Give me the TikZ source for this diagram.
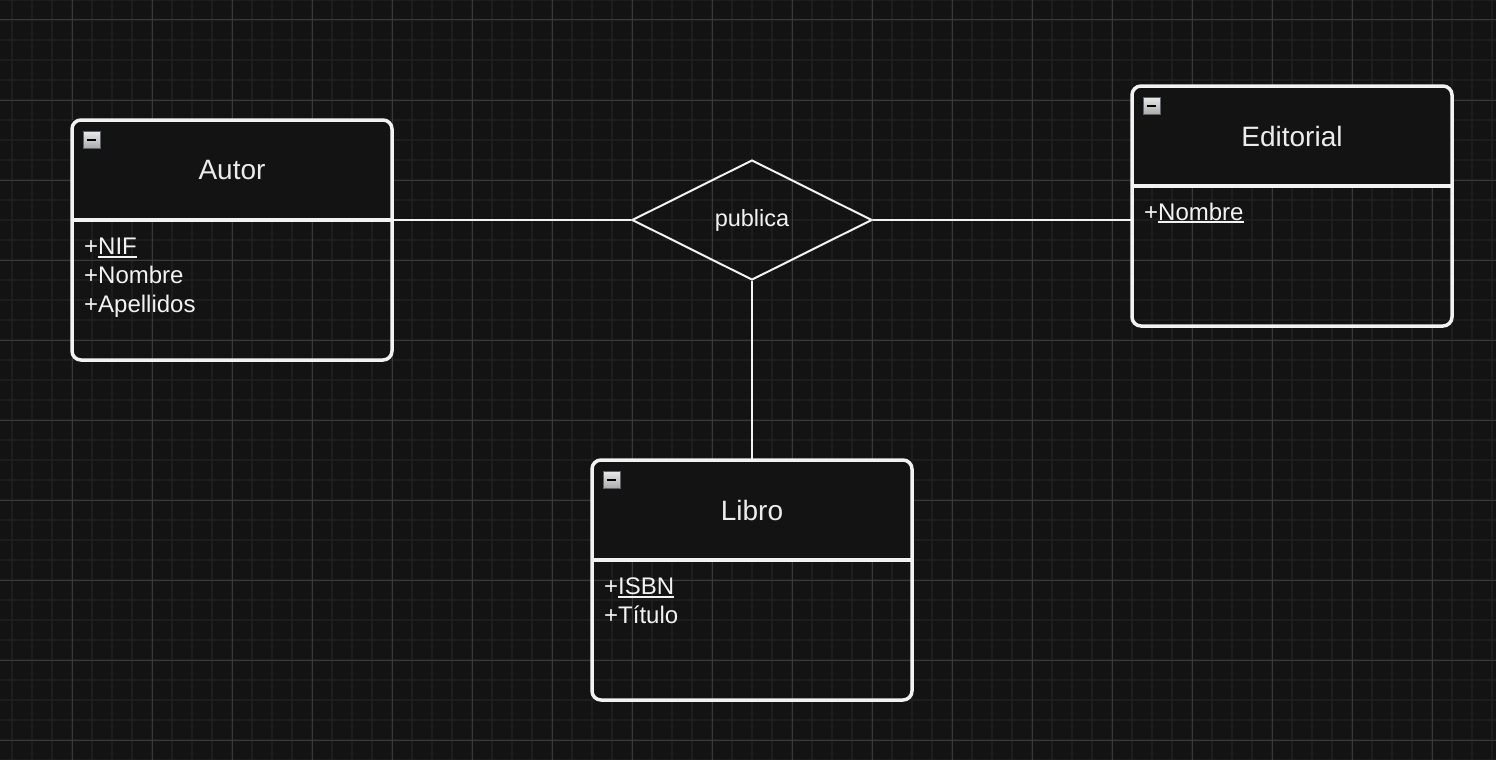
\documentclass[tikz,border=0pt]{standalone}
\usepackage{fontspec}
\setmainfont{Liberation Sans}
\usetikzlibrary{shapes.geometric}

\definecolor{canvas}{HTML}{131313}
\definecolor{gridminor}{HTML}{1D1D1D}
\definecolor{gridmajor}{HTML}{393939}
\definecolor{ink}{HTML}{F2F2F2}
\definecolor{titleink}{HTML}{ECECEC}
\definecolor{iconedge}{HTML}{5C6270}
\definecolor{icontop}{HTML}{EAEAEA}
\definecolor{iconbot}{HTML}{ABABAB}

% underlined key attribute with a controlled rule
\newcommand{\keyattr}[1]{\setbox0\hbox{#1}\rlap{\rule[-3pt]{\wd0}{1.6pt}}\box0}

\tikzset{
  frame/.style={draw=ink, line width=3.5pt, rounded corners=9pt,
    minimum width=320pt, minimum height=240pt, inner sep=0pt, outer sep=0pt,
    anchor=north west},
  headbox/.style={fill=canvas, minimum width=320pt, minimum height=100pt,
    inner sep=0pt, outer sep=0pt, anchor=north west, text=titleink,
    font=\fontsize{28}{33}\selectfont},
  divider/.style={draw=ink, line width=3.5pt},
  attr/.style={anchor=base west, inner sep=0pt, text=ink,
    font=\fontsize{24}{29}\selectfont},
  minusicon/.style={draw=iconedge, line width=1pt, top color=icontop,
    bottom color=iconbot, minimum width=17pt, minimum height=17pt,
    inner sep=0pt, anchor=north west,
    path picture={\draw[black, line width=2pt]
      ([xshift=4pt]path picture bounding box.west) --
      ([xshift=-4pt]path picture bounding box.east);}},
  relation/.style={diamond, draw=ink, line width=2pt, aspect=2,
    minimum width=240pt, minimum height=120pt, inner sep=0pt,
    text=ink, font=\fontsize{23.5}{28}\selectfont},
  link/.style={draw=ink, line width=2pt},
}

\begin{document}
\begin{tikzpicture}[x=1pt, y=-1pt]
  % canvas and grid
  \fill[canvas] (0,0) rectangle (1496,760);
  \useasboundingbox (0,0) rectangle (1496,760);
  \foreach \gx in {12,32,...,1492} \draw[gridminor, line width=1.5pt] (\gx,0) -- (\gx,760);
  \foreach \gy in {0,20,...,760} \draw[gridminor, line width=1.5pt] (0,\gy) -- (1496,\gy);
  \foreach \gx in {72,152,...,1432} \draw[gridmajor, line width=1pt] (\gx,0) -- (\gx,760);
  \foreach \gy in {20,100,...,740} \draw[gridmajor, line width=1pt] (0,\gy) -- (1496,\gy);

  % entity Autor
  \node[headbox] (autorH) at (72,120) {Autor};
  \node[frame] (autor) at (72,120) {};
  \draw[divider] (autorH.south west) -- (autorH.south east);
  \node[minusicon] (autorI) at (82.5,130.5) {};
  \node[attr] (autorA1) at (84,254.5) {+\keyattr{NIF}};
  \node[attr] (autorA2) at (84,283.5) {+Nombre};
  \node[attr] (autorA3) at (84,312.5) {+Apellidos};

  % entity Editorial
  \node[headbox] (editorialH) at (1132,86) {Editorial};
  \node[frame] (editorial) at (1132,86) {};
  \draw[divider] (editorialH.south west) -- (editorialH.south east);
  \node[minusicon] (editorialI) at (1142.5,96.5) {};
  \node[attr] (editorialA1) at (1144,220) {+\keyattr{Nombre}};

  % entity Libro
  \node[headbox] (libroH) at (592,460) {Libro};
  \node[frame] (libro) at (592,460) {};
  \draw[divider] (libroH.south west) -- (libroH.south east);
  \node[minusicon] (libroI) at (602.5,470.5) {};
  \node[attr] (libroA1) at (604,594.5) {+\keyattr{ISBN}};
  \node[attr] (libroA2) at (604,623.5) {+Título};

  % relationship
  \node[relation] (rel) at (752,220) {publica};

  % connectors
  \draw[link] (autorH.south east) -- (rel.west);
  \draw[link] (rel.east) -- (rel.east -| editorial.west);
  \draw[link] (rel.south) -- (libro.north);
\end{tikzpicture}
\end{document}
